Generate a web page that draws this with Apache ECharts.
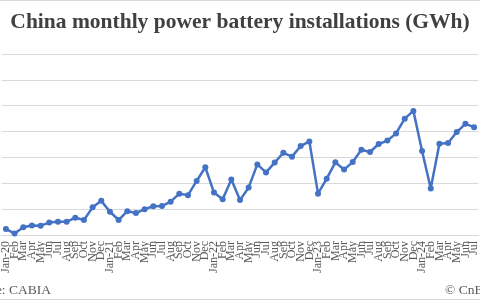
<!DOCTYPE html>
<html>
<head>
<meta charset="utf-8">
<script src="https://cdn.jsdelivr.net/npm/echarts@6/dist/echarts.min.js"></script>
<style>html,body{margin:0;padding:0;background:#fff}#c{width:480px;height:300px}</style>
</head>
<body>
<div id="c"></div>
<script>
const months = ["Jan-20","Feb","Mar","Apr","May","Jun","Jul","Aug","Sep","Oct","Nov","Dec",
"Jan-21","Feb","Mar","Apr","May","Jun","Jul","Aug","Sep","Oct","Nov","Dec",
"Jan-22","Feb","Mar","Apr","May","Jun","Jul","Aug","Sep","Oct","Nov","Dec",
"Jan-23","Feb","Mar","Apr","May","Jun","Jul","Aug","Sep","Oct","Nov","Dec",
"Jan-24","Feb","Mar","Apr","May","Jun","Jul"];
const installs = [2.3,0.6,3.0,3.7,3.6,4.8,5.1,5.1,6.7,5.8,10.7,13.2,
9.0,5.8,9.2,8.5,10.0,11.1,11.2,12.9,16.0,15.4,20.9,26.2,
16.4,13.8,21.5,13.5,18.4,27.3,24.2,28.0,31.8,30.3,34.4,36.2,
16.0,21.8,28.1,25.3,28.2,33.0,32.1,35.2,36.5,39.3,45.0,48.0,
32.5,18.0,35.3,35.6,39.8,43.0,41.7];
const yTicks = {min:0, max:70, interval:10};
const titleText = "China monthly power battery installations (GWh)";
const sourceText = "Source: CABIA";
const creditText = "© CnEVPost";

const chart = echarts.init(document.getElementById('c'));
chart.setOption({
  animation:false,
  backgroundColor:'#fff',
  title:{text:titleText,left:'center',top:6,textStyle:{fontFamily:'Liberation Serif',fontWeight:'bold',fontSize:21.5,color:'#404040'}},
  grid:{left:-2.7,right:-3.5,top:54,bottom:65,containLabel:false},
  xAxis:{type:'category',data:months,boundaryGap:true,
    axisLine:{lineStyle:{color:'#d9d9d9',width:1}},axisTick:{show:false},
    axisLabel:{interval:0,rotate:90,margin:6,fontFamily:'Liberation Serif',fontSize:12,color:'#595959'}},
  yAxis:{type:'value',min:yTicks.min,max:yTicks.max,interval:yTicks.interval,
    axisLabel:{show:false},axisLine:{show:false},axisTick:{show:false},
    splitLine:{lineStyle:{color:'#d9d9d9',width:1}}},
  series:[{type:'line',data:installs,symbol:'circle',symbolSize:6,
    lineStyle:{color:'#4472C4',width:2.5},itemStyle:{color:'#4472C4'}}],
  graphic:[
    {type:'text',right:429,top:283,style:{text:sourceText,font:'13.5px "Liberation Serif"',fill:'#595959',textAlign:'right'}},
    {type:'text',left:445,top:283,style:{text:creditText,font:'13.5px "Liberation Serif"',fill:'#595959'}},
    {type:'rect',shape:{x:0,y:0,width:480,height:1},style:{fill:'#d9d9d9'}},
    {type:'rect',shape:{x:0,y:299,width:480,height:1},style:{fill:'#d9d9d9'}}
  ]
});
</script>
</body>
</html>
